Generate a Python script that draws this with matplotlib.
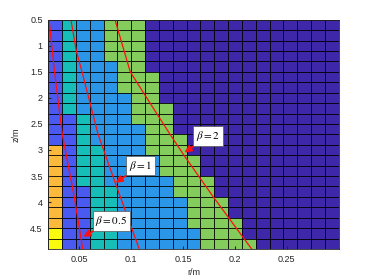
import numpy as np
import matplotlib
matplotlib.use("Agg")
import matplotlib.pyplot as plt
from matplotlib.colors import ListedColormap

plt.rcParams['font.family'] = ['Liberation Sans', 'DejaVu Sans']
plt.rcParams['mathtext.fontset'] = 'stix'

# ---- data ----
# grid: 21 radial cells from r = 0.02 to 0.30 m, 22 axial cells of 0.2 m from z = 0.5 to 4.9 m
r_start, r_end, n_r = 0.02, 0.30, 21
z_start, z_end, n_z = 0.5, 4.9, 22

# class levels: 0 dark, 1 blue, 2 light blue, 3 teal, 4 green, 5 orange, 6 yellow
# per column (left -> right), runs of (level, number of cells) from top (z=0.5) downward
column_runs = [
    [(1, 12), (5, 8), (6, 2)],
    [(3, 9), (1, 13)],
    [(2, 9), (3, 7), (1, 6)],
    [(2, 12), (3, 10)],
    [(4, 4), (2, 12), (3, 6)],
    [(4, 7), (2, 15)],
    [(4, 10), (2, 12)],
    [(0, 5), (4, 8), (2, 9)],
    [(0, 8), (4, 7), (2, 7)],
    [(0, 11), (4, 6), (2, 5)],
    [(0, 13), (4, 7), (2, 2)],
    [(0, 15), (4, 7)],
    [(0, 17), (4, 5)],
    [(0, 19), (4, 3)],
    [(0, 21), (4, 1)],
    [(0, 22)],
    [(0, 22)],
    [(0, 22)],
    [(0, 22)],
    [(0, 22)],
    [(0, 22)],
]
level_colors = ['#3e27a8', '#4a5af0', '#2b96e8', '#17beb8', '#84cc5b', '#fbba3c', '#f9fa0e']

# beta lines (r in m at given z in m)
beta05_z = [0.5, 1.5, 2.7, 3.9, 4.9]
beta05_r = [0.0207, 0.0260, 0.0335, 0.0450, 0.0532]
beta1_z = [0.5, 1.1, 1.5, 2.7, 3.6, 4.9]
beta1_r = [0.0418, 0.0470, 0.0525, 0.0680, 0.0840, 0.1077]
beta2_z = [0.5, 1.5, 2.1, 2.7, 3.13, 3.9, 4.9]
beta2_r = [0.0843, 0.0990, 0.1181, 0.1374, 0.1518, 0.1791, 0.2161]

labels = [r'$\beta = 0.5$', r'$\beta = 1$', r'$\beta = 2$']
label_tips = [(0.0538, 4.665), (0.0848, 3.63), (0.1513, 3.05)]
label_pos = [(0.0808, 4.36), (0.1092, 3.30), (0.1743, 2.73)]

x_ticks = [0.05, 0.10, 0.15, 0.20, 0.25]
x_ticklabels = ['0.05', '0.1', '0.15', '0.2', '0.25']
y_ticks = [0.5, 1.0, 1.5, 2.0, 2.5, 3.0, 3.5, 4.0, 4.5]
y_ticklabels = ['0.5', '1', '1.5', '2', '2.5', '3', '3.5', '4', '4.5']

# ---- build grid ----
r_edges = np.linspace(r_start, r_end, n_r + 1)
z_edges = np.linspace(z_start, z_end, n_z + 1)
grid = np.zeros((n_z, n_r))
for j, runs in enumerate(column_runs):
    col = []
    for lev, cnt in runs:
        col += [lev] * cnt
    grid[:, j] = col

fig = plt.figure(figsize=(3.74, 2.8), dpi=100)
ax = fig.add_axes([48.3 / 374, 1 - 249 / 280, (338.7 - 48.3) / 374, (249 - 19.7) / 280])

cmap = ListedColormap(level_colors)
ax.pcolormesh(r_edges, z_edges, grid, cmap=cmap, vmin=-0.5, vmax=6.5,
              edgecolors=(0, 0, 0, 0.85), linewidth=0.6)

for zz, rr in [(beta05_z, beta05_r), (beta1_z, beta1_r), (beta2_z, beta2_r)]:
    ax.plot(rr, zz, color='#ff1010', lw=0.9)

for txt, tip, pos in zip(labels, label_tips, label_pos):
    ax.annotate(txt, xy=tip, xytext=pos, ha='center', va='center', fontsize=8,
                bbox=dict(boxstyle='square,pad=0.25', fc='white', ec='#555555', lw=0.5),
                arrowprops=dict(arrowstyle='-|>', color='#ff1010', lw=1.3,
                                mutation_scale=10, shrinkA=0, shrinkB=0))

ax.set_xlim(r_start, r_end)
ax.set_ylim(z_end, z_start)
ax.set_xticks(x_ticks)
ax.set_xticklabels(x_ticklabels)
ax.set_yticks(y_ticks)
ax.set_yticklabels(y_ticklabels)
ax.tick_params(direction='in', length=2, labelsize=6.5, colors='#262626', pad=4)
for s in ax.spines.values():
    s.set_color('#262626')
    s.set_linewidth(0.6)
ax.set_xlabel('r/m', fontsize=6.5, color='#262626', labelpad=3)
ax.set_ylabel('z/m', fontsize=6.5, color='#262626', labelpad=7)

fig.savefig('out.png', dpi=100)
